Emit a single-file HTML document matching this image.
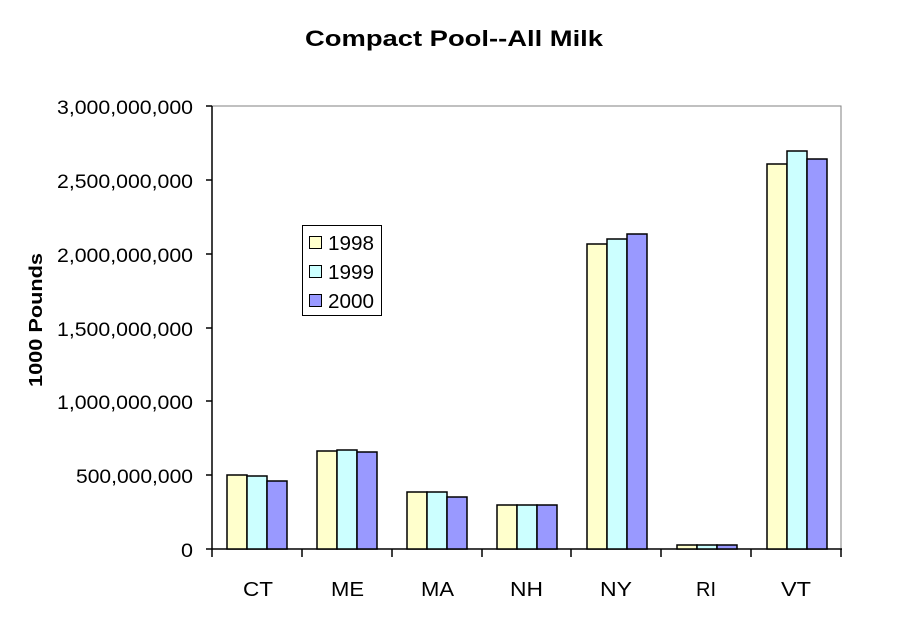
<!DOCTYPE html>
<html><head><style>
html,body{margin:0;padding:0;background:#fff;}
svg{display:block;font-family:"Liberation Sans",Arial,sans-serif;}
</style></head><body>
<svg width="911" height="623" viewBox="0 0 911 623" xmlns="http://www.w3.org/2000/svg">
<rect width="911" height="623" fill="#fff"/>
<text x="305" y="46" font-size="22" font-weight="bold" textLength="298" lengthAdjust="spacingAndGlyphs">Compact Pool--All Milk</text>
<text transform="translate(42,387) rotate(-90)" font-size="18" font-weight="bold" textLength="134" lengthAdjust="spacingAndGlyphs">1000 Pounds</text>
<polyline points="212,106 841,106 841,549" fill="none" stroke="#808080" stroke-width="1"/>
<line x1="212" y1="106" x2="212" y2="549" stroke="#000" stroke-width="1.5"/>
<line x1="206" y1="549" x2="842" y2="549" stroke="#000" stroke-width="1.5"/>
<g stroke="#000" stroke-width="1.5">
<line x1="206" y1="106" x2="212" y2="106"/>
<line x1="206" y1="180" x2="212" y2="180"/>
<line x1="206" y1="254" x2="212" y2="254"/>
<line x1="206" y1="328" x2="212" y2="328"/>
<line x1="206" y1="401" x2="212" y2="401"/>
<line x1="206" y1="475" x2="212" y2="475"/>
<line x1="212" y1="549" x2="212" y2="557"/>
<line x1="302" y1="549" x2="302" y2="557"/>
<line x1="392" y1="549" x2="392" y2="557"/>
<line x1="482" y1="549" x2="482" y2="557"/>
<line x1="571" y1="549" x2="571" y2="557"/>
<line x1="661" y1="549" x2="661" y2="557"/>
<line x1="751" y1="549" x2="751" y2="557"/>
<line x1="841" y1="549" x2="841" y2="557"/>
</g>
<g font-size="19" lengthAdjust="spacingAndGlyphs">
<text x="57" y="114" textLength="136" lengthAdjust="spacingAndGlyphs">3,000,000,000</text>
<text x="57" y="188" textLength="136" lengthAdjust="spacingAndGlyphs">2,500,000,000</text>
<text x="57" y="262" textLength="136" lengthAdjust="spacingAndGlyphs">2,000,000,000</text>
<text x="57" y="336" textLength="136" lengthAdjust="spacingAndGlyphs">1,500,000,000</text>
<text x="57" y="409" textLength="136" lengthAdjust="spacingAndGlyphs">1,000,000,000</text>
<text x="76" y="483" textLength="117" lengthAdjust="spacingAndGlyphs">500,000,000</text>
<text x="181" y="557" textLength="12" lengthAdjust="spacingAndGlyphs">0</text>
</g>
<g font-size="20">
<text x="243" y="596" textLength="30" lengthAdjust="spacingAndGlyphs">CT</text>
<text x="331" y="596" textLength="33" lengthAdjust="spacingAndGlyphs">ME</text>
<text x="421" y="596" textLength="33" lengthAdjust="spacingAndGlyphs">MA</text>
<text x="510" y="596" textLength="33" lengthAdjust="spacingAndGlyphs">NH</text>
<text x="600" y="596" textLength="32" lengthAdjust="spacingAndGlyphs">NY</text>
<text x="696" y="596" textLength="20" lengthAdjust="spacingAndGlyphs">RI</text>
<text x="781" y="596" textLength="30" lengthAdjust="spacingAndGlyphs">VT</text>
</g>
<g stroke="#000" stroke-width="1.5">
<rect x="227" y="475" width="20" height="74" fill="#FFFFCC"/>
<rect x="247" y="476" width="20" height="73" fill="#CCFFFF"/>
<rect x="267" y="481" width="20" height="68" fill="#9999FF"/>
<rect x="317" y="451" width="20" height="98" fill="#FFFFCC"/>
<rect x="337" y="450" width="20" height="99" fill="#CCFFFF"/>
<rect x="357" y="452" width="20" height="97" fill="#9999FF"/>
<rect x="407" y="492" width="20" height="57" fill="#FFFFCC"/>
<rect x="427" y="492" width="20" height="57" fill="#CCFFFF"/>
<rect x="447" y="497" width="20" height="52" fill="#9999FF"/>
<rect x="497" y="505" width="20" height="44" fill="#FFFFCC"/>
<rect x="517" y="505" width="20" height="44" fill="#CCFFFF"/>
<rect x="537" y="505" width="20" height="44" fill="#9999FF"/>
<rect x="587" y="244" width="20" height="305" fill="#FFFFCC"/>
<rect x="607" y="239" width="20" height="310" fill="#CCFFFF"/>
<rect x="627" y="234" width="20" height="315" fill="#9999FF"/>
<rect x="677" y="545" width="20" height="4" fill="#FFFFCC"/>
<rect x="697" y="545" width="20" height="4" fill="#CCFFFF"/>
<rect x="717" y="545" width="20" height="4" fill="#9999FF"/>
<rect x="767" y="164" width="20" height="385" fill="#FFFFCC"/>
<rect x="787" y="151" width="20" height="398" fill="#CCFFFF"/>
<rect x="807" y="159" width="20" height="390" fill="#9999FF"/>
</g>
<rect x="302.5" y="225.5" width="79" height="90" fill="#fff" stroke="#000" stroke-width="1"/>
<g stroke="#000" stroke-width="1">
<rect x="309.5" y="236.5" width="12" height="12" fill="#FFFFCC"/>
<rect x="309.5" y="265.5" width="12" height="12" fill="#CCFFFF"/>
<rect x="309.5" y="294.5" width="12" height="12" fill="#9999FF"/>
</g>
<g font-size="20">
<text x="328" y="250" textLength="46" lengthAdjust="spacingAndGlyphs">1998</text>
<text x="328" y="279" textLength="46" lengthAdjust="spacingAndGlyphs">1999</text>
<text x="328" y="308" textLength="46" lengthAdjust="spacingAndGlyphs">2000</text>
</g>
</svg>
</body></html>
